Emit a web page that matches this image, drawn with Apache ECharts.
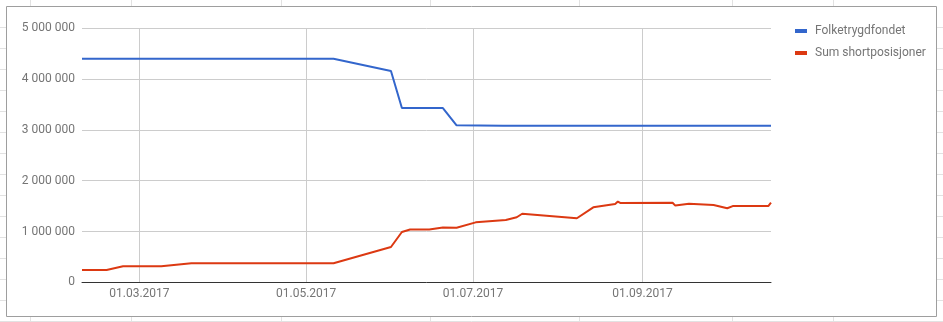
<!DOCTYPE html>
<html>
<head>
<meta charset="utf-8">
<script src="https://cdn.jsdelivr.net/npm/echarts@6/dist/echarts.min.js"></script>
<style>
html,body{margin:0;padding:0;background:#fff;}
#chart{width:943px;height:322px;}
</style>
</head>
<body>
<div id="chart"></div>
<script>
// ---- data ----
const seriesNames = ['Folketrygdfondet', 'Sum shortposisjoner'];

const folkeDates = ['2017-02-08','2017-05-11','2017-06-01','2017-06-05','2017-06-20','2017-06-25','2017-07-12','2017-10-18'];
const folkeValues = [4400000, 4400000, 4160000, 3430000, 3430000, 3090000, 3080000, 3080000];

const shortDates = ['2017-02-08','2017-02-17','2017-02-23','2017-03-09','2017-03-20','2017-05-11','2017-06-01','2017-06-05','2017-06-08','2017-06-15','2017-06-20','2017-06-25','2017-07-02','2017-07-13','2017-07-17','2017-07-19','2017-08-08','2017-08-14','2017-08-22','2017-08-23','2017-08-24','2017-09-12','2017-09-13','2017-09-18','2017-09-27','2017-10-02','2017-10-04','2017-10-17','2017-10-18'];
const shortValues = [242000, 242000, 315000, 315000, 374000, 374000, 695000, 990000, 1040000, 1040000, 1080000, 1075000, 1180000, 1226000, 1280000, 1350000, 1260000, 1476000, 1540000, 1590000, 1560000, 1567000, 1510000, 1547000, 1520000, 1457000, 1500000, 1500000, 1567000];

const xTickDates = ['2017-03-01','2017-05-01','2017-07-01','2017-09-01'];
const xMinDate = '2017-02-08';
const xMaxDate = '2017-10-18';
const yTicks = [0, 1000000, 2000000, 3000000, 4000000, 5000000];

// ---- helpers ----
function ts(s){ const p = s.split('-').map(Number); return Date.UTC(p[0], p[1]-1, p[2]); }
function pad(n){ return (n<10?'0':'')+n; }
function fmtDate(v){ const d = new Date(v); return pad(d.getUTCDate())+'.'+pad(d.getUTCMonth()+1)+'.'+d.getUTCFullYear(); }
function fmtNum(v){ return String(Math.round(v)).replace(/\B(?=(\d{3})+(?!\d))/g, ' '); }

const folkeData = folkeDates.map((d,i)=>[ts(d), folkeValues[i]]);
const shortData = shortDates.map((d,i)=>[ts(d), shortValues[i]]);
const xTicks = xTickDates.map(ts);

// spreadsheet background grid (decoration)
const colXs = [30.5, 131.5, 281.5, 430.5, 579.5, 732.5, 833.5];
const rowYs = [];
for (let k = 1; k <= 15; k++) rowYs.push(Math.round(5.7 + 21*k) + 0.5);
const deco = [];
rowYs.forEach(y => {
  deco.push({type:'line', shape:{x1:0,y1:y,x2:943,y2:y}, style:{stroke:'#e2e2e2', lineWidth:1}, z:-10});
});
colXs.forEach(x => {
  deco.push({type:'line', shape:{x1:x,y1:0,x2:x,y2:322}, style:{stroke:'#e2e2e2', lineWidth:1}, z:-10});
});
deco.push({type:'rect', shape:{x:7, y:7, width:929, height:309}, style:{fill:'#fff', stroke:'none'}, z:-9});
deco.push({type:'rect', shape:{x:6.5, y:6.5, width:930, height:310}, style:{fill:'none', stroke:'#9e9e9e', lineWidth:1}, z:-8});

const chart = echarts.init(document.getElementById('chart'), null, {renderer:'canvas'});
chart.setOption({
  animation: false,
  backgroundColor: '#fff',
  textStyle: { fontFamily: 'Roboto' },
  graphic: deco,
  grid: { left: 82, right: 172, top: 28.3, bottom: 39.7, containLabel: false },
  legend: {
    data: seriesNames,
    orient: 'vertical',
    left: 790,
    top: 19,
    itemWidth: 12,
    itemHeight: 4,
    itemGap: 8,
    icon: 'rect',
    textStyle: { color: '#757575', fontSize: 12, fontFamily: 'Roboto', padding: [0,0,0,3], lineHeight: 14 }
  },
  xAxis: {
    type: 'value',
    min: ts(xMinDate),
    max: ts(xMaxDate),
    axisLine: { show: true, onZero: false, lineStyle: { color: '#333', width: 1 } },
    axisTick: { show: false, customValues: xTicks },
    axisLabel: { customValues: xTicks, formatter: v => fmtDate(v), color: '#757575', fontSize: 12, fontFamily: 'Roboto', margin: 6, hideOverlap: false },
    splitLine: { show: true, lineStyle: { color: '#cccccc', width: 1 } }
  },
  yAxis: {
    type: 'value',
    min: yTicks[0],
    max: yTicks[yTicks.length-1],
    interval: yTicks[1]-yTicks[0],
    axisLine: { show: false },
    axisTick: { show: false },
    axisLabel: { formatter: v => fmtNum(v), color: '#757575', fontSize: 12, fontFamily: 'Roboto', margin: 7 },
    splitLine: { show: true, lineStyle: { color: '#cccccc', width: 1 } }
  },
  series: [
    { name: seriesNames[0], type: 'line', data: folkeData, showSymbol: false, symbol: 'none', lineStyle: { color: '#3366cc', width: 2 }, itemStyle: { color: '#3366cc' }, z: 3 },
    { name: seriesNames[1], type: 'line', data: shortData, showSymbol: false, symbol: 'none', lineStyle: { color: '#dc3912', width: 2 }, itemStyle: { color: '#dc3912' }, z: 3 }
  ]
});
</script>
</body>
</html>
